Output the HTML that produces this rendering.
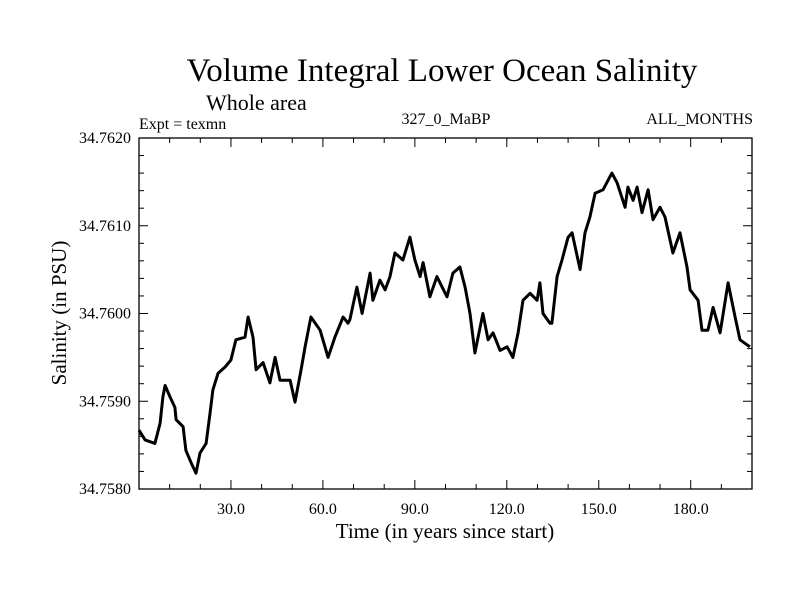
<!DOCTYPE html>
<html><head><meta charset="utf-8"><style>
body{margin:0;background:#fff}
svg text{font-family:"Liberation Serif",serif;fill:#000}
</style></head><body>
<svg id="chart" width="800" height="600" xmlns="http://www.w3.org/2000/svg">
<text x="442" y="81" font-size="33" text-anchor="middle">Volume Integral Lower Ocean Salinity</text>
<text x="206" y="110" font-size="22">Whole area</text>
<text x="139" y="129" font-size="16">Expt = texmn</text>
<text x="446" y="124" font-size="16" text-anchor="middle">327_0_MaBP</text>
<text x="753" y="124" font-size="16" text-anchor="end">ALL_MONTHS</text>
<text x="445" y="538" font-size="21" text-anchor="middle">Time (in years since start)</text>
<text x="0" y="0" font-size="21" text-anchor="middle" transform="translate(66,313) rotate(-90)">Salinity (in PSU)</text>
<g id="axes"></g>
<path id="series" fill="none" stroke="#000" stroke-width="3" stroke-linejoin="round"/>
<rect x="139" y="138" width="613" height="351" fill="none" stroke="#000" stroke-width="1.3"/>
</svg>
<script>
const years=[0,2,5.2,6.9,7.8,8.5,10.1,11.7,12.1,14.4,15.3,17,18.6,19.9,21.9,23.2,24.1,25.8,28.1,30,31.6,34.6,35.6,37.2,38.2,40.5,42.7,44.4,46,49.3,50.9,52.9,54.2,56.1,59.1,61.7,63.9,66.6,68.2,68.8,71.1,72.8,75.4,76.3,78.6,80.3,81.9,83.5,86.1,88.4,90,91.7,92.7,94.9,97.2,100.5,102.4,104.7,106.4,108,109.6,112.2,113.9,115.5,117.8,120.1,122,123.7,125.3,127.6,129.9,130.8,131.8,134.1,134.7,136.4,138,140,141.3,143.9,145.5,147.1,148.8,151.4,154.3,156,158.6,159.5,161.2,162.5,164.1,166.1,167.7,170,171.6,174.2,176.5,178.8,179.8,182.4,183.7,185.6,187.3,189.6,192.2,194.5,196.1,199.3];
const salinity=[34.75867,34.75856,34.75852,34.75875,34.75905,34.75918,34.75905,34.75893,34.75879,34.75871,34.75844,34.7583,34.75818,34.75841,34.75852,34.75887,34.75913,34.75932,34.75939,34.75947,34.7597,34.75973,34.75996,34.75973,34.75936,34.75944,34.75921,34.7595,34.75924,34.75924,34.75899,34.75936,34.75962,34.75996,34.75981,34.7595,34.75973,34.75996,34.75989,34.75993,34.7603,34.76,34.76046,34.76015,34.76038,34.76027,34.76042,34.76069,34.76061,34.76087,34.76061,34.76042,34.76058,34.76019,34.76042,34.76019,34.76046,34.76053,34.7603,34.76,34.75955,34.76,34.7597,34.75978,34.75958,34.75962,34.7595,34.75978,34.76015,34.76023,34.76015,34.76035,34.76,34.75989,34.75989,34.76042,34.76061,34.76087,34.76092,34.7605,34.76092,34.7611,34.76137,34.76141,34.7616,34.76149,34.76121,34.76144,34.76129,34.76144,34.76115,34.76141,34.76107,34.76121,34.7611,34.76069,34.76092,34.76053,34.76027,34.76015,34.75981,34.75981,34.76007,34.75978,34.76035,34.75996,34.7597,34.75962];
const xTickLabels=["30.0","60.0","90.0","120.0","150.0","180.0"];
const yTickLabels=["34.7580","34.7590","34.7600","34.7610","34.7620"];
const X0=139,X1=752,Y0=138,Y1=489,XMIN=0,XMAX=200,YMIN=34.758,YMAX=34.762;
const sx=v=>X0+(v-XMIN)/(XMAX-XMIN)*(X1-X0);
const sy=v=>Y1-(v-YMIN)/(YMAX-YMIN)*(Y1-Y0);
const NS="http://www.w3.org/2000/svg";
const g=document.getElementById('axes');
function line(x1,y1,x2,y2,name){const l=document.createElementNS(NS,'line');
l.setAttribute('x1',x1);l.setAttribute('y1',y1);l.setAttribute('x2',x2);l.setAttribute('y2',y2);
l.setAttribute('stroke','#000');l.setAttribute('stroke-width','1');


g.appendChild(l);}
function text(x,y,s,anchor,name){const t=document.createElementNS(NS,'text');
t.setAttribute('x',x);t.setAttribute('y',y);t.setAttribute('font-size','16');t.setAttribute('text-anchor',anchor);t.textContent=s;


g.appendChild(t);}
for(let v=10;v<200;v+=10){const x=sx(v);const L=v%30===0?9:5;
line(x,Y1,x,Y1-L,'x-tick');line(x,Y0,x,Y0+L,'x-tick');}
xTickLabels.forEach(s=>text(sx(parseFloat(s)),514,s,'middle','x-tick-label'));
for(let i=0;i<=20;i++){const v=YMIN+i*0.0002;const y=sy(v);const L=i%5===0?9:5;
line(X0,y,X0+L,y,'y-tick');line(X1,y,X1-L,y,'y-tick');}
yTickLabels.forEach(s=>text(131,sy(parseFloat(s))+5,s,'end','y-tick-label'));
let d='';years.forEach((yr,i)=>{d+=(i?'L':'M')+sx(yr).toFixed(1)+','+sy(salinity[i]).toFixed(1);});
document.getElementById('series').setAttribute('d',d);
</script>
</body></html>
